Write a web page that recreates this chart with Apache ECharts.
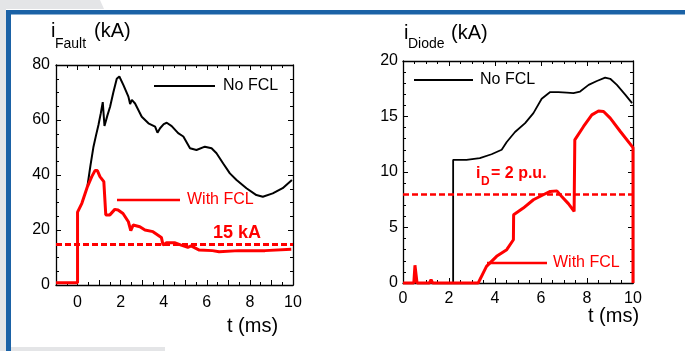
<!DOCTYPE html>
<html>
<head>
<meta charset="utf-8">
<script src="https://cdn.jsdelivr.net/npm/echarts@6/dist/echarts.min.js"></script>
<style>
html,body{margin:0;padding:0;background:#fff;}
#c{width:685px;height:351px;}
</style>
</head>
<body>
<div id="c"></div>
<script>
// ---- Data: left chart (i_Fault, kA) ----
var faultNoFclT = [0.46, 0.6, 0.74, 0.86, 0.97, 1.08, 1.17, 1.25, 1.38, 1.51, 1.66, 1.82, 1.94, 2.03, 2.13, 2.36, 2.44, 2.52, 2.67, 2.98, 3.29, 3.6, 3.71, 3.83, 4.0, 4.14, 4.37, 4.67, 4.91, 5.22, 5.52, 5.91, 6.22, 6.45, 6.76, 7.07, 7.38, 7.84, 8.3, 8.6, 9.06, 9.52, 9.95];
var faultNoFclV = [36, 43.5, 50.3, 54.5, 58.2, 62.5, 66.5, 57.8, 61.5, 64.8, 70, 75, 75.8, 75.2, 72.7, 68.5, 65.8, 67.3, 66, 61.2, 58.8, 57.6, 55.4, 57, 58.5, 59, 57.8, 55.2, 54, 49.7, 49.1, 50.3, 49.7, 47.9, 44.2, 40.6, 38.2, 35.2, 32.7, 32.1, 33.3, 35.2, 38.2];
var faultFclT = [-1, 0, 0, 0.2, 0.46, 0.66, 0.81, 0.92, 1.04, 1.22, 1.31, 1.5, 1.73, 1.88, 2.11, 2.36, 2.47, 2.58, 2.89, 3.13, 3.5, 3.89, 3.97, 4.13, 4.5, 4.81, 5.12, 5.27, 5.65, 6.26, 6.57, 7.48, 8.7, 9.92];
var faultFclV = [0.8, 0.8, 26.5, 29.7, 35.8, 39.4, 41.6, 41.6, 39.4, 37.6, 25.5, 25.5, 27.5, 27.3, 26, 23, 19.8, 21.8, 21.2, 20, 19.4, 17.3, 14.5, 15.4, 15.4, 14.5, 13.7, 14.2, 12.7, 12.5, 12.1, 12.5, 12.5, 13];
var faultLimit = 15;

// ---- Data: right chart (i_Diode, kA) ----
var diodeNoFclT = [0, 2.18, 2.18, 2.22, 2.76, 3.34, 3.85, 4.29, 4.51, 4.87, 5.31, 5.67, 6.03, 6.4, 6.76, 7.12, 7.41, 7.7, 8.07, 8.43, 8.79, 9.01, 9.3, 9.67, 9.96];
var diodeNoFclV = [0, 0, 11.1, 11.15, 11.1, 11.25, 11.6, 12, 12.7, 13.6, 14.4, 15.3, 16.6, 17.2, 17.2, 17.15, 17.1, 17.25, 17.85, 18.2, 18.5, 18.4, 17.85, 16.95, 16.2];
var diodeFclT = [0, 0.47, 0.52, 0.61, 1.15, 1.22, 1.29, 3.27, 3.63, 4.07, 4.51, 4.8, 4.81, 5.23, 5.67, 6.1, 6.4, 6.69, 6.9, 7.19, 7.44, 7.47, 7.85, 8.21, 8.5, 8.72, 9.01, 9.45, 10, 10];
var diodeFclV = [0, 0, 1.6, 0, 0, 0.3, 0, 0, 1.5, 2.4, 3, 3.9, 6.15, 6.75, 7.5, 7.95, 8.25, 8.3, 7.8, 7.15, 6.45, 12.9, 14.1, 15.15, 15.5, 15.45, 14.85, 13.65, 12.2, 0];
var diodeLimit = 8;

// ---- Axis tick settings ----
var faultXTicks = {min: -1, max: 10, interval: 1};
var faultYTicks = {min: 0, max: 80, interval: 20};
var diodeXTicks = {min: 0, max: 10, interval: 2};
var diodeYTicks = {min: 0, max: 20, interval: 5};

function zip(a, b) { return a.map(function (v, i) { return [v, b[i]]; }); }

var FONT = 'Liberation Sans, Arial, sans-serif';
var RED = '#ff0000';

function axis(type, pos, ticks, gridIndex, showLabel, minorSplit, labelFmt, margin) {
  return {
    type: 'value', gridIndex: gridIndex, position: pos,
    min: ticks.min, max: ticks.max, interval: ticks.interval,
    axisLine: {show: true, onZero: false, lineStyle: {color: '#000', width: 1.3}},
    axisTick: {show: true, inside: true, length: 5, lineStyle: {color: '#000', width: 1}},
    minorTick: {show: true, splitNumber: minorSplit, length: 3, lineStyle: {color: '#000', width: 1}},
    splitLine: {show: false},
    axisLabel: {show: showLabel, color: '#000', fontSize: 16, fontFamily: FONT, margin: margin,
      formatter: labelFmt || function (v) { return String(v); }}
  };
}
var evenOnly = function (v) { return (Math.round(v) % 2 === 0) ? String(v) : ''; };

var chart = echarts.init(document.getElementById('c'), null, {renderer: 'canvas'});

function txt(x, y, s, size, color, weight) {
  return {type: 'text', left: x, top: y - size * 0.58, silent: true,
    style: {text: s, fill: color || '#000', font: (weight || 'normal') + ' ' + size + 'px ' + FONT}};
}
function seg(x1, y1, x2, y2, color, w) {
  return {type: 'line', silent: true, shape: {x1: x1, y1: y1, x2: x2, y2: y2},
    style: {stroke: color, lineWidth: w}};
}

var option = {
  animation: false,
  backgroundColor: '#ffffff',
  grid: [
    {left: 56, top: 65, width: 237, height: 220},
    {left: 403, top: 61, width: 230, height: 222}
  ],
  xAxis: [
    axis('x', 'bottom', faultXTicks, 0, true, 2, evenOnly, 10),
    axis('x', 'top', faultXTicks, 0, false, 2),
    axis('x', 'bottom', diodeXTicks, 1, true, 4, null, 8),
    axis('x', 'top', diodeXTicks, 1, false, 4)
  ],
  yAxis: [
    axis('y', 'left', faultYTicks, 0, true, 4, null, 6),
    axis('y', 'right', faultYTicks, 0, false, 4),
    axis('y', 'left', diodeYTicks, 1, true, 5, null, 5),
    axis('y', 'right', diodeYTicks, 1, false, 5)
  ],
  series: [
    {type: 'line', xAxisIndex: 0, yAxisIndex: 0, data: zip(faultNoFclT, faultNoFclV),
      showSymbol: false, lineStyle: {color: '#000', width: 2}, z: 2},
    {type: 'line', xAxisIndex: 0, yAxisIndex: 0, data: zip(faultFclT, faultFclV),
      showSymbol: false, lineStyle: {color: RED, width: 3}, z: 3,
      markLine: {silent: true, symbol: 'none', label: {show: false},
        lineStyle: {color: RED, width: 3, type: [6, 3]},
        data: [{yAxis: faultLimit}]}},
    {type: 'line', xAxisIndex: 2, yAxisIndex: 2, data: zip(diodeNoFclT, diodeNoFclV),
      showSymbol: false, lineStyle: {color: '#000', width: 1.8}, z: 2},
    {type: 'line', xAxisIndex: 2, yAxisIndex: 2, data: zip(diodeFclT, diodeFclV),
      showSymbol: false, clip: false, lineStyle: {color: RED, width: 3}, z: 3,
      markLine: {silent: true, symbol: 'none', label: {show: false},
        lineStyle: {color: RED, width: 2.5, type: [6, 3]},
        data: [{yAxis: diodeLimit}]}}
  ],
  graphic: [
    // decorative frame
    {type: 'polygon', silent: true, z: -10, shape: {points: [[0,0],[100,0],[104,9],[6,9],[6,351],[0,351]]}, style: {fill: '#e4e5e7'}},
    {type: 'rect', silent: true, z: -10, shape: {x: 11, y: 347, width: 154, height: 4}, style: {fill: '#e4e5e7'}},
    {type: 'rect', silent: true, z: -9, shape: {x: 6, y: 10, width: 679, height: 4.5}, style: {fill: '#1b62a6'}},
    {type: 'rect', silent: true, z: -9, shape: {x: 6, y: 10, width: 5, height: 341}, style: {fill: '#1b62a6'}},
    // left chart texts
    txt(51, 33, 'i', 20), txt(55, 45, 'Fault', 14), txt(94, 33, '(kA)', 20),
    txt(227, 328, 't (ms)', 20),
    seg(154, 86, 215, 86, '#000', 2), txt(223, 87, 'No FCL', 16),
    seg(117, 200, 180, 200, RED, 2.5), txt(187, 201, 'With FCL', 16, RED),
    txt(213, 234, '15 kA', 18, RED, 'bold'),
    // right chart texts
    txt(404, 35, 'i', 20), txt(408, 45, 'Diode', 14), txt(451, 35, '(kA)', 20),
    txt(588, 318, 't (ms)', 20),
    seg(414, 80, 473, 80, '#000', 2), txt(480, 81, 'No FCL', 16),
    seg(487, 263, 547, 263, RED, 2.5), txt(553, 264, 'With FCL', 16, RED),
    txt(476, 175, 'i', 16, RED, 'bold'), txt(481, 183, 'D', 12, RED, 'bold'), txt(491, 175, '= 2 p.u.', 16, RED, 'bold')
  ]
};
chart.setOption(option);
</script>
</body>
</html>
